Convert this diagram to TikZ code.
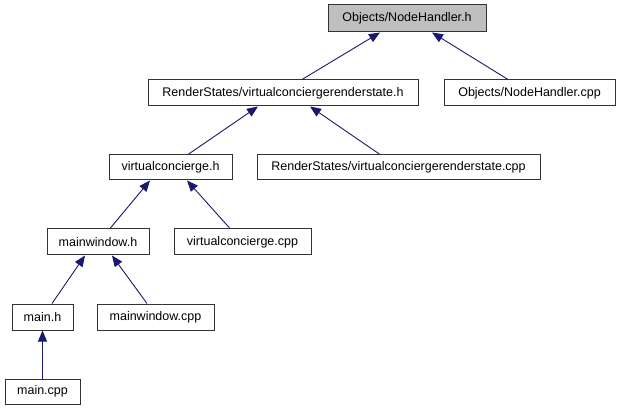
\documentclass[tikz,border=0pt]{standalone}
\usepackage{fontspec}
\setmainfont{Liberation Sans}
\usetikzlibrary{arrows.meta}
\definecolor{edgeblue}{HTML}{191970}
\definecolor{rootgray}{HTML}{BFBFBF}
\begin{document}
\begin{tikzpicture}[x=1pt,y=-1pt,
  box/.style={draw=black!80,line width=1pt,rectangle,inner sep=0pt,minimum height=26pt,font=\fontsize{12.5pt}{14pt}\selectfont,fill=white},
  edge/.style={draw=edgeblue,line width=0.9pt,-{Triangle[length=11pt,width=9pt,fill=edgeblue]}}]
\useasboundingbox (0,0) rectangle (620,411);
\node[box,fill=rootgray,minimum width=158pt,minimum height=27pt] (nhh) at (407,18.5) {Objects/NodeHandler.h};
\node[box,minimum width=171pt] (nhcpp) at (529.5,93) {Objects/NodeHandler.cpp};
\node[box,minimum width=270pt] (rsh) at (283,93) {RenderStates/virtualconciergerenderstate.h};
\node[box,minimum width=123pt,minimum height=25pt] (vch) at (170.5,167.5) {virtualconcierge.h};
\node[box,minimum width=283pt,minimum height=25pt] (rscpp) at (398.5,167.5) {RenderStates/virtualconciergerenderstate.cpp};
\node[box,minimum width=102pt] (mwh) at (98,242) {mainwindow.h};
\node[box,minimum width=137pt] (vccpp) at (242.5,242) {virtualconcierge.cpp};
\node[box,minimum width=61pt] (mainh) at (42.5,317) {main.h};
\node[box,minimum width=117pt] (mwcpp) at (155.5,317) {mainwindow.cpp};
\node[box,minimum width=75pt,minimum height=25pt] (maincpp) at (42.5,391.5) {main.cpp};
\draw[edge] ([xshift=19pt]rsh.north) -- ([xshift=-27pt]nhh.south);
\draw[edge] ([xshift=-21.5pt]nhcpp.north) -- ([xshift=25pt]nhh.south);
\draw[edge] ([xshift=17.5pt]vch.north) -- ([xshift=-25pt]rsh.south);
\draw[edge] ([xshift=-18.5pt]rscpp.north) -- ([xshift=27pt]rsh.south);
\draw[edge] ([xshift=12pt]mwh.north) -- ([xshift=-20.5pt]vch.south);
\draw[edge] ([xshift=-12.5pt]vccpp.north) -- ([xshift=16.5pt]vch.south);
\draw[edge] ([xshift=9.5pt]mainh.north) -- ([xshift=-13pt]mwh.south);
\draw[edge] ([xshift=-8.5pt]mwcpp.north) -- ([xshift=14pt]mwh.south);
\draw[edge] (maincpp.north) -- (mainh.south);
\end{tikzpicture}
\end{document}
